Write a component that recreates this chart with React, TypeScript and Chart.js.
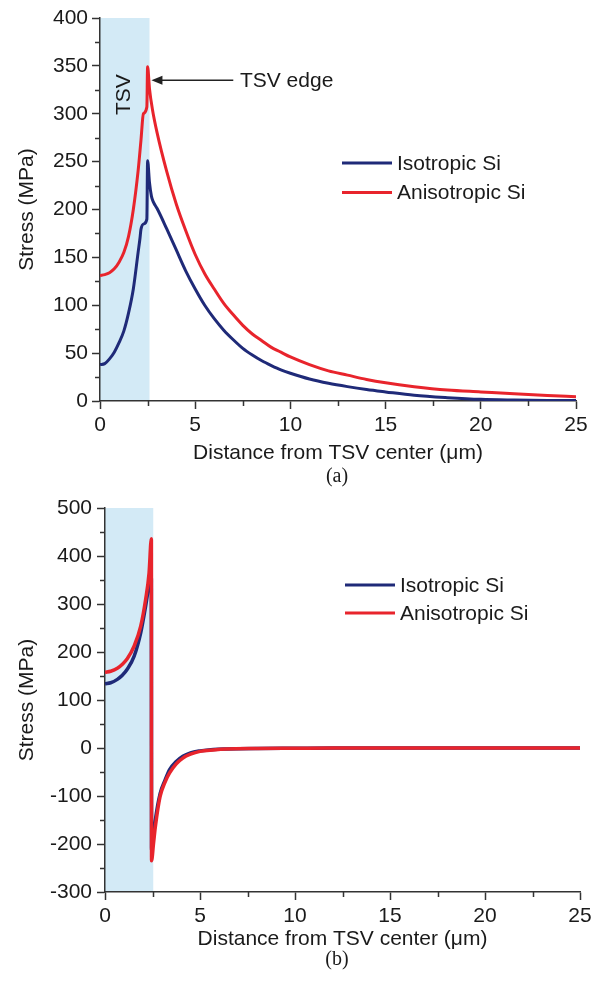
import React, { useEffect, useRef } from "react";
import { Chart, registerables } from "chart.js";
Chart.register(...registerables);

const FONT = "Arial, 'Liberation Sans', Helvetica, sans-serif";
const SERIF = "'Times New Roman', 'Liberation Serif', serif";
const TXT = "#1a1a1a";
const AX = "#333333";
const SHADE = "#d3eaf6";
const BLUE = "#1f2a78";
const RED = "#e8242c";

const seriesNames = ["Isotropic Si", "Anisotropic Si"];
const xTitle = "Distance from TSV center (\u03bcm)";
const yTitle = "Stress (MPa)";

// Panel (a)
const aIsoX = [0, 0.25, 0.5, 0.75, 1.0, 1.25, 1.5, 1.75, 2.0, 2.1, 2.15, 2.3, 2.46, 2.5, 2.6, 2.7, 2.8, 3.0, 3.5, 4.0, 4.5, 5.0, 5.5, 6.0, 6.5, 7.0, 7.5, 8.0, 8.5, 9.0, 9.5, 10, 11, 12, 13, 14, 15, 16.5, 18.25, 20, 21.75, 23.5, 25];
const aIsoY = [38, 39, 44, 51, 61, 73, 92, 117, 155, 170, 179, 185, 190, 251, 228, 214, 208, 201, 180, 158, 136, 117, 100, 86, 74, 64, 55, 48, 42, 37, 32.5, 29, 23, 18.5, 15, 12, 9.5, 6, 3.5, 1.7, 1, 0.6, 0.5];
const aAniX = [0, 0.25, 0.5, 0.75, 1.0, 1.25, 1.5, 1.75, 2.0, 2.15, 2.28, 2.46, 2.5, 2.6, 2.75, 3.0, 3.5, 4.0, 4.5, 5.0, 5.5, 6.0, 6.5, 7.0, 7.5, 8.0, 8.5, 9.0, 9.5, 10, 11, 12, 13, 14, 15, 16.5, 18.25, 20, 21.75, 23.5, 25];
const aAniY = [131, 132, 134, 138, 145, 155, 172, 200, 240, 272, 300, 307, 349, 326, 305, 280, 240, 206, 178, 153, 133, 117, 102, 90, 79, 70, 63, 56, 51, 46, 38, 31.5, 27, 22.5, 19, 15, 11.5, 9.5, 7.5, 5.8, 4.5];

// Panel (b)
const bIsoX = [0, 0.3, 0.65, 0.9, 1.17, 1.53, 1.88, 2.14, 2.32, 2.44, 2.45, 2.55, 2.65, 2.9, 3.15, 3.4, 3.75, 4.1, 4.5, 5.0, 5.7, 6.4, 8, 10, 12, 15, 20, 25];
const bIsoY = [134, 136, 143, 151, 164, 191, 240, 296, 340, 358, -215, -185, -150, -95, -68, -45, -28, -17, -10, -6, -3, -2, -1, -0.5, 0, 0, 0, 0];
const bAniX = [0, 0.3, 0.65, 0.9, 1.17, 1.53, 1.88, 2.14, 2.32, 2.44, 2.45, 2.55, 2.65, 2.9, 3.15, 3.4, 3.75, 4.1, 4.5, 5.0, 5.7, 6.4, 8, 10, 12, 15, 20, 25];
const bAniY = [158, 160, 166, 174, 186, 212, 254, 310, 365, 436, -235, -200, -164, -101, -72, -52, -33, -21, -13, -7, -4, -2, -1, -0.5, 0, 0, 0, 0];

type Series = { name: string; xs: number[]; ys: number[]; color: string; order: number };
type Panel = {
  height: number;
  plotLeft: number; plotRight: number; plotTop: number; plotBottom: number;
  yMin: number; yMax: number; yStep: number;
  lineWidth: number;
  shadeEnd: number;
  series: Series[];
  legendX: number; legendY: number; legendGap: number;
  caption: string; captionY: number;
  xTitlePad: number; yTickPad: number;
  annotate: boolean;
};

const panelA: Panel = {
  height: 490,
  plotLeft: 100, plotRight: 576, plotTop: 18, plotBottom: 401,
  yMin: 0, yMax: 400, yStep: 50,
  lineWidth: 3,
  shadeEnd: 2.6,
  series: [
    { name: seriesNames[0], xs: aIsoX, ys: aIsoY, color: BLUE, order: 2 },
    { name: seriesNames[1], xs: aAniX, ys: aAniY, color: RED, order: 1 },
  ],
  legendX: 342, legendY: 163, legendGap: 29.5,
  caption: "(a)", captionY: 477,
  xTitlePad: 24, yTickPad: 4,
  annotate: true,
};

const panelB: Panel = {
  height: 491,
  plotLeft: 105, plotRight: 580, plotTop: 18, plotBottom: 402,
  yMin: -300, yMax: 500, yStep: 100,
  lineWidth: 3.5,
  shadeEnd: 2.54,
  series: [
    { name: seriesNames[0], xs: bIsoX, ys: bIsoY, color: BLUE, order: 2 },
    { name: seriesNames[1], xs: bAniX, ys: bAniY, color: RED, order: 1 },
  ],
  legendX: 345, legendY: 95, legendGap: 28,
  caption: "(b)", captionY: 470,
  xTitlePad: 29, yTickPad: 5,
  annotate: false,
};

function makeChart(canvas: HTMLCanvasElement, p: Panel) {
  const H = p.height;
  const font = { family: FONT, size: 21 };

  const shadePlugin = {
    id: "shade",
    beforeDraw(chart: any) {
      const { ctx, chartArea, scales } = chart;
      const x0 = scales.x.getPixelForValue(0);
      const x1 = scales.x.getPixelForValue(p.shadeEnd);
      ctx.save();
      ctx.fillStyle = "#ffffff";
      ctx.fillRect(0, 0, chart.width, chart.height);
      ctx.fillStyle = SHADE;
      ctx.fillRect(x0, chartArea.top, x1 - x0, chartArea.bottom - chartArea.top);
      ctx.restore();
    },
  };

  const overlayPlugin = {
    id: "overlay",
    afterDraw(chart: any) {
      const { ctx, chartArea, scales } = chart;
      const xs = scales.x, ys = scales.y;
      ctx.save();
      // minor ticks
      ctx.strokeStyle = AX;
      ctx.lineWidth = 1.5;
      ctx.beginPath();
      for (let v = 2.5; v < 25; v += 5) {
        const px = Math.round(xs.getPixelForValue(v)) + 0.5;
        ctx.moveTo(px, chartArea.bottom);
        ctx.lineTo(px, chartArea.bottom + 5);
      }
      for (let v = p.yMin + p.yStep / 2; v < p.yMax; v += p.yStep) {
        const py = Math.round(ys.getPixelForValue(v)) + 0.5;
        ctx.moveTo(chartArea.left, py);
        ctx.lineTo(chartArea.left - 5, py);
      }
      ctx.stroke();

      // legend
      ctx.font = `21px ${FONT}`;
      ctx.textBaseline = "middle";
      ctx.textAlign = "left";
      p.series.forEach((s, i) => {
        const y = p.legendY + i * p.legendGap;
        ctx.strokeStyle = s.color;
        ctx.lineWidth = 3;
        ctx.beginPath();
        ctx.moveTo(p.legendX, y);
        ctx.lineTo(p.legendX + 50, y);
        ctx.stroke();
        ctx.fillStyle = TXT;
        ctx.fillText(s.name, p.legendX + 55, y + 1);
      });

      if (p.annotate) {
        // "TSV" label inside the shaded region
        const tx = xs.getPixelForValue(1.26);
        const ty = ys.getPixelForValue(320);
        ctx.save();
        ctx.translate(tx, ty);
        ctx.rotate(-Math.PI / 2);
        ctx.textAlign = "center";
        ctx.textBaseline = "middle";
        ctx.fillStyle = TXT;
        ctx.fillText("TSV", 0, 0);
        ctx.restore();

        // arrow pointing to the TSV edge
        const ay = ys.getPixelForValue(335);
        const tip = xs.getPixelForValue(2.7);
        const tail = xs.getPixelForValue(7.0);
        ctx.strokeStyle = "#222";
        ctx.lineWidth = 1.5;
        ctx.beginPath();
        ctx.moveTo(tail, ay);
        ctx.lineTo(tip + 8, ay);
        ctx.stroke();
        ctx.fillStyle = "#222";
        ctx.beginPath();
        ctx.moveTo(tip, ay);
        ctx.lineTo(tip + 11, ay - 4.5);
        ctx.lineTo(tip + 11, ay + 4.5);
        ctx.closePath();
        ctx.fill();
        ctx.fillStyle = TXT;
        ctx.textAlign = "left";
        ctx.textBaseline = "middle";
        ctx.fillText("TSV edge", xs.getPixelForValue(7.35), ay + 1);
      }

      // caption
      ctx.font = `20px ${SERIF}`;
      ctx.textAlign = "center";
      ctx.textBaseline = "middle";
      ctx.fillStyle = TXT;
      ctx.fillText(p.caption, 337, p.captionY);
      ctx.restore();
    },
  };

  return new Chart(canvas, {
    type: "line",
    data: {
      datasets: p.series.map((s) => ({
        label: s.name,
        data: s.xs.map((x, j) => ({ x, y: s.ys[j] })),
        borderColor: s.color,
        backgroundColor: s.color,
        borderWidth: p.lineWidth,
        pointRadius: 0,
        fill: false,
        cubicInterpolationMode: "monotone",
        order: s.order,
      })),
    },
    options: {
      responsive: false,
      animation: false,
      events: [],
      layout: { padding: { top: p.plotTop, right: 599 - p.plotRight, left: 0, bottom: 0 } },
      plugins: { legend: { display: false }, tooltip: { enabled: false }, title: { display: false } },
      scales: {
        x: {
          type: "linear",
          min: 0,
          max: 25,
          afterFit: (s: any) => { s.height = H - p.plotBottom; },
          ticks: { stepSize: 5, font, color: TXT, padding: 4, maxRotation: 0, autoSkip: false },
          grid: { display: true, drawOnChartArea: false, drawTicks: true, tickLength: 8, tickColor: AX, tickWidth: 1.5 },
          border: { display: true, color: AX, width: 1.5 },
          title: { display: true, text: xTitle, font, color: TXT, padding: { top: 0, bottom: p.xTitlePad } },
        },
        y: {
          type: "linear",
          min: p.yMin,
          max: p.yMax,
          afterFit: (s: any) => { s.width = p.plotLeft; },
          ticks: { stepSize: p.yStep, font, color: TXT, padding: p.yTickPad, autoSkip: false },
          grid: { display: true, drawOnChartArea: false, drawTicks: true, tickLength: 8, tickColor: AX, tickWidth: 1.5 },
          border: { display: true, color: AX, width: 1.5 },
          title: { display: true, text: yTitle, font, color: TXT, padding: { top: 15, bottom: 0 } },
        },
      },
    } as any,
    plugins: [shadePlugin, overlayPlugin],
  });
}

export default function App() {
  const topRef = useRef<HTMLCanvasElement>(null);
  const botRef = useRef<HTMLCanvasElement>(null);
  useEffect(() => {
    document.body.style.margin = "0";
    const c1 = makeChart(topRef.current!, panelA);
    const c2 = makeChart(botRef.current!, panelB);
    return () => {
      c1.destroy();
      c2.destroy();
    };
  }, []);
  return (
    <div style={{ position: "relative", width: 599, height: 981, background: "#fff" }}>
      <canvas ref={topRef} width={599} height={490} style={{ position: "absolute", left: 0, top: 0 }} />
      <canvas ref={botRef} width={599} height={491} style={{ position: "absolute", left: 0, top: 490 }} />
    </div>
  );
}
